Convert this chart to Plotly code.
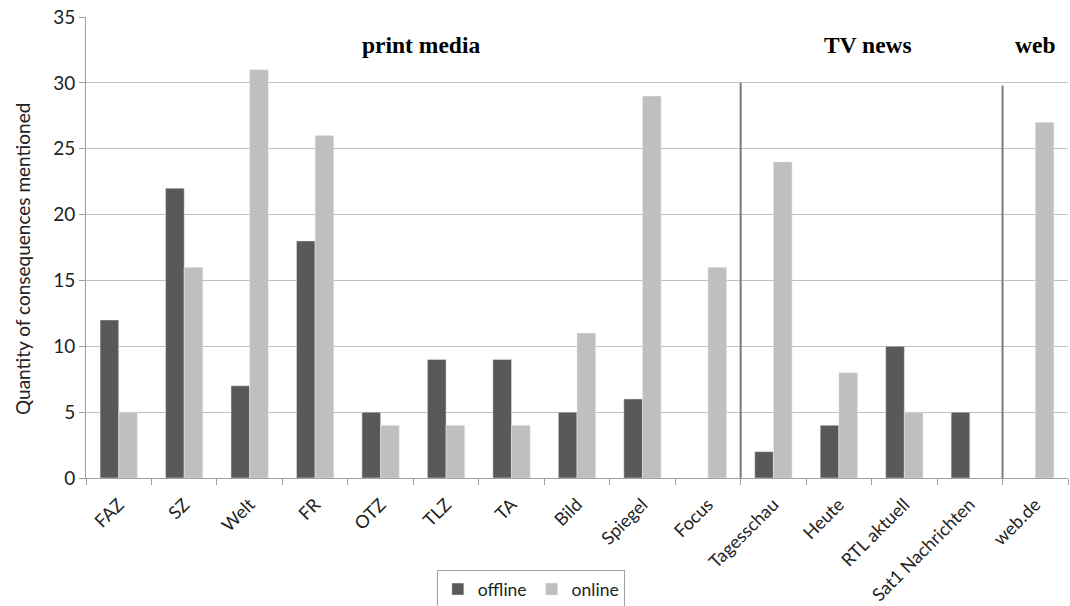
import plotly.graph_objects as go

categories = ["FAZ", "SZ", "Welt", "FR", "OTZ", "TLZ", "TA", "Bild", "Spiegel", "Focus",
              "Tagesschau", "Heute", "RTL aktuell", "Sat1 Nachrichten", "web.de"]
offline = [12, 22, 7, 18, 5, 9, 9, 5, 6, None, 2, 4, 10, 5, None]
online = [5, 16, 31, 26, 4, 4, 4, 11, 29, 16, 24, 8, 5, None, 27]

section_labels = ["print media", "TV news", "web"]
section_label_pos = [4.62, 11.44, 13.99]
separator_pos = [9.5, 13.5]
separator_top = [30, 29.8]
y_title = "Quantity of consequences mentioned"

fig = go.Figure()
fig.add_trace(go.Bar(name="offline", x=categories, y=offline, marker_color="#595959"))
fig.add_trace(go.Bar(name="online", x=categories, y=online, marker_color="#bfbfbf"))

for xp, top in zip(separator_pos, separator_top):
    fig.add_shape(type="line", xref="x", yref="y", x0=xp, x1=xp, y0=0, y1=top,
                  line=dict(color="#7a7a7a", width=2))

for lab, xp in zip(section_labels, section_label_pos):
    fig.add_annotation(text="<b>" + lab + "</b>", xref="x", yref="y", x=xp, y=32.9,
                       showarrow=False,
                       font=dict(family="Liberation Serif", size=23.5, color="black"))

fig.add_annotation(text=y_title, xref="paper", yref="paper", x=0, y=0.5, xshift=-64,
                   yshift=-11.5, xanchor="center", yanchor="middle",
                   textangle=-90, showarrow=False, font=dict(size=19, color="#222222"))

fig.update_layout(
    width=1070, height=606,
    margin=dict(l=86, r=2, t=17, b=128, autoexpand=False),
    paper_bgcolor="white", plot_bgcolor="white",
    barmode="group", bargap=0.43, bargroupgap=0,
    font=dict(family="Lato", color="#222222"),
    legend=dict(orientation="h", x=0.453, xanchor="center", y=-0.2, yanchor="top",
                bordercolor="#a0a0a0", borderwidth=1, font=dict(size=17.5),
                itemwidth=30, traceorder="normal"),
    xaxis=dict(type="category", tickangle=-45, ticks="outside", tickson="boundaries",
               ticklen=6, tickcolor="#a0a0a0", showline=True, linecolor="#a0a0a0",
               linewidth=1, tickfont=dict(size=18), ticklabelstandoff=8,
               range=[-0.5, 14.5], automargin=False),
    yaxis=dict(range=[0, 35], dtick=5, showgrid=True, gridcolor="#c0c0c0", gridwidth=1,
               ticks="outside", ticklen=6, tickcolor="#a0a0a0", showline=True,
               linecolor="#a0a0a0", zeroline=False, tickfont=dict(size=19), automargin=False),
)

fig.write_html("out.html")
